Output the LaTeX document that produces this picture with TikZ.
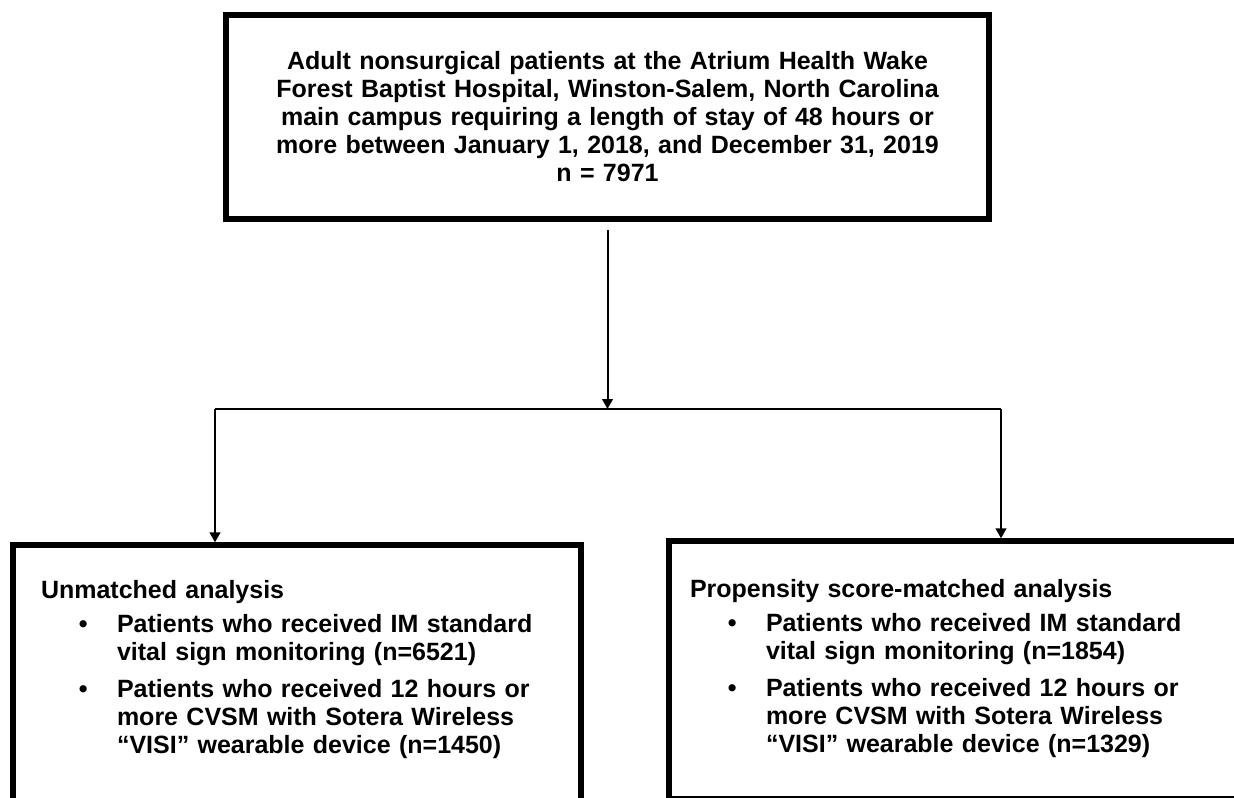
\documentclass[tikz,border=0pt]{standalone}
\usepackage{fontspec}
\setmainfont{Liberation Sans}
\usetikzlibrary{arrows.meta,positioning,calc}

\newenvironment{armitems}{\begin{list}{\textbullet}{%
  \setlength{\leftmargin}{57pt}\setlength{\labelsep}{22pt}%
  \setlength{\labelwidth}{10pt}\setlength{\topsep}{4.5pt}%
  \setlength{\partopsep}{0pt}\setlength{\itemsep}{6.75pt}%
  \setlength{\parsep}{0pt}}}{\end{list}}

\begin{document}
\begin{tikzpicture}[x=0.75pt,y=-0.75pt,
  every node/.style={font=\fontsize{18.75pt}{21pt}\bfseries\selectfont},
  cohortbox/.style={draw,line width=4.5pt,minimum width=572.25pt,minimum height=153pt,text width=525pt,align=center},
  armbox/.style={draw,line width=4.5pt,anchor=north west,outer sep=0pt,inner ysep=0pt,align=left},
  link/.style={line width=1.5pt},
  flow/.style={link,-{Triangle[width=8pt,length=7.5pt]}}]
\useasboundingbox (0,0) rectangle (1234,797);
\clip (0,0) rectangle (1234,797);

\node[cohortbox] (cohort) at (607.5,117)
{Adult nonsurgical patients at the Atrium Health Wake\\
Forest Baptist Hospital, Winston-Salem, North Carolina\\
main campus requiring a length of stay of 48 hours or\\
more between January 1, 2018, and December 31, 2019\\
n = 7971};

\node[armbox,inner xsep=21pt,text width=384pt,text height=39.75pt,text depth=225pt] (unmatched) at (13,545)
{Unmatched analysis
\begin{armitems}
\item Patients who received IM standard\newline vital sign monitoring (n=6521)
\item Patients who received 12 hours or\newline more CVSM with Sotera Wireless\newline “VISI” wearable device (n=1450)
\end{armitems}};

\node[armbox,inner xsep=15.75pt,text width=404.25pt,text height=42pt,text depth=151.5pt] (matched) at (669,541)
{Propensity score-matched analysis
\begin{armitems}
\item Patients who received IM standard\newline vital sign monitoring (n=1854)
\item Patients who received 12 hours or\newline more CVSM with Sotera Wireless\newline “VISI” wearable device (n=1329)
\end{armitems}};

\coordinate (splitL) at (215,409);
\coordinate (splitR) at (1001,409);

\draw[flow,shorten <=6pt] (cohort.south) -- (cohort.south |- splitL);
\draw[link] (splitL) -- (splitR);
\draw[flow,shorten >=2pt] (splitL) -- (splitL |- unmatched.north);
\draw[flow,shorten >=2pt] (splitR) -- (splitR |- matched.north);
\end{tikzpicture}
\end{document}
